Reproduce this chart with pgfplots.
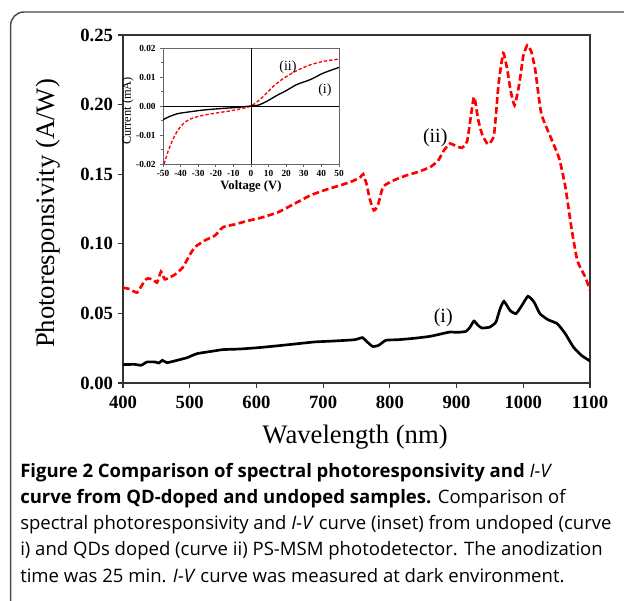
\documentclass[border=0pt]{standalone}
\usepackage{fontspec}
\setmainfont{Liberation Serif}
\newfontfamily\capfont{Open Sans}
\usepackage{pgfplots}
\pgfplotsset{compat=1.18}
\begin{document}
\begin{tikzpicture}
\useasboundingbox (0,0) rectangle (468pt,-450pt);
\begin{scope}
\clip (0,0) rectangle (468pt,-450pt);
\draw[line width=1.1pt, color=black!70, rounded corners=10pt] (8pt,-9pt) rectangle (490pt,-480pt);
\end{scope}

\begin{axis}[at={(92.25pt,-287.25pt)}, anchor=south west, scale only axis,
  width=350.25pt, height=261pt,
  xmin=400, xmax=1100, ymin=0, ymax=0.25,
  xtick={400,500,600,700,800,900,1000,1100},
  ytick={0,0.05,0.1,0.15,0.2,0.25},
  scaled ticks=false,
  tick align=outside, tick pos=left, major tick length=4pt,
  axis line style={line width=0.9pt, black!80},
  every tick/.style={line width=0.9pt, black!80},
  /pgf/number format/assume math mode=true,
  /pgf/number format/1000 sep={},
  tick label style={font=\bfseries\fontsize{14}{14}\selectfont},
  yticklabel style={/pgf/number format/.cd, fixed, fixed zerofill, precision=2},
  xticklabel style={yshift=-2pt},
  xlabel={Wavelength (nm)},
  ylabel={Photoresponsivity (A/W)},
  xlabel style={at={(rel axis cs:0.497,-0.155)}, anchor=center, font=\fontsize{20}{20}\selectfont},
  ylabel style={at={(rel axis cs:-0.161,0.487)}, anchor=center, font=\fontsize{20}{20}\selectfont},
]
\addplot[red, line width=2pt, dash pattern=on 5pt off 2.5pt, smooth, tension=0.3] coordinates {
(400,0.0685)(410,0.0675)(421,0.0650)(430,0.0715)(436,0.0750)(445,0.0745)(451,0.0722)(457,0.0800)(463,0.0745)(478,0.0780)(490,0.0833)(500,0.0920)(508,0.0977)(523,0.1025)(538,0.1060)(550,0.1120)(568,0.1140)(586,0.1164)(609,0.1190)(633,0.1228)(657,0.1288)(681,0.1348)(705,0.1390)(729,0.1425)(744,0.1450)(756,0.1480)(760,0.1500)(765,0.1430)(770,0.1320)(776,0.1240)(782,0.1276)(790,0.1410)(806,0.1456)(824,0.1490)(842,0.1516)(860,0.1550)(872,0.1595)(881,0.1670)(890,0.1720)(900,0.1700)(908,0.1690)(916,0.1740)(926,0.2055)(932,0.1900)(938,0.1790)(947,0.1715)(956,0.1780)(963,0.2150)(970,0.2370)(976,0.2250)(981,0.2100)(987,0.1995)(994,0.2150)(1000,0.2350)(1006,0.2426)(1012,0.2380)(1018,0.2246)(1027,0.1935)(1042,0.1755)(1054,0.1610)(1063,0.1410)(1072,0.1120)(1081,0.0880)(1093,0.0760)(1100,0.0666)
};
\addplot[black, line width=2pt, smooth, tension=0.3] coordinates {
(400,0.0132)(418,0.0134)(427,0.0127)(436,0.0151)(448,0.0151)(454,0.0144)(459,0.0163)(466,0.0146)(481,0.0163)(496,0.0182)(511,0.0211)(532,0.0227)(550,0.0240)(574,0.0244)(603,0.0254)(633,0.0268)(663,0.0283)(687,0.0295)(717,0.0302)(747,0.0311)(759,0.0326)(765,0.0300)(774,0.0263)(783,0.0270)(794,0.0307)(812,0.0311)(836,0.0321)(860,0.0335)(878,0.0354)(890,0.0366)(902,0.0364)(914,0.0371)(920,0.0400)(926,0.0445)(932,0.0415)(938,0.0395)(950,0.0402)(959,0.0438)(965,0.0530)(971,0.0587)(980,0.0522)(989,0.0498)(998,0.0558)(1007,0.0623)(1016,0.0582)(1025,0.0498)(1037,0.0455)(1051,0.0426)(1063,0.0354)(1075,0.0259)(1087,0.0199)(1100,0.0158)
};
\node[font=\fontsize{15}{15}\selectfont] at (axis cs:868,0.176) {(ii)};
\node[font=\fontsize{15}{15}\selectfont] at (axis cs:880,0.047) {(i)};
\end{axis}

\begin{axis}[at={(122.25pt,-123pt)}, anchor=south west, scale only axis,
  width=132pt, height=87pt,
  xmin=-50, xmax=50, ymin=-0.02, ymax=0.02,
  xtick={-50,-40,-30,-20,-10,0,10,20,30,40,50},
  ytick={-0.02,-0.01,0,0.01,0.02},
  minor y tick num=1,
  scaled ticks=false,
  tick align=outside, tick pos=left, major tick length=2pt, minor tick length=1.5pt,
  axis line style={line width=0.6pt, black!60},
  every tick/.style={line width=0.5pt, black!60},
  axis background/.style={fill=white},
  /pgf/number format/assume math mode=true,
  tick label style={font=\bfseries\fontsize{7}{7}\selectfont},
  yticklabel style={/pgf/number format/.cd, fixed, fixed zerofill, precision=2},
  xticklabel style={yshift=1pt},
  xlabel={Voltage (V)},
  ylabel={Current (mA)},
  xlabel style={at={(rel axis cs:0.5,-0.195)}, anchor=center, font=\bfseries\fontsize{9.5}{9.5}\selectfont},
  ylabel style={at={(rel axis cs:-0.199,0.457)}, anchor=center, font=\fontsize{9.3}{9.3}\selectfont},
]
\draw[black, line width=0.6pt] (axis cs:0,-0.02) -- (axis cs:0,0.02);
\draw[black, line width=0.6pt] (axis cs:-50,0) -- (axis cs:50,0);
\addplot[red, line width=1pt, dash pattern=on 2.5pt off 1.5pt, smooth, tension=0.4] coordinates {
(-49.4,-0.0200)(-47.1,-0.0156)(-44.3,-0.0114)(-41.4,-0.0082)(-37.6,-0.0056)(-32.9,-0.0041)(-27.2,-0.0032)(-19.6,-0.0024)(-12,-0.0017)(-4.4,-0.0008)(0,0)(3.2,0.0013)(7,0.0033)(12.7,0.0068)(18.4,0.0095)(26,0.0122)(33.7,0.0142)(41.3,0.0154)(50,0.0162)
};
\addplot[black, line width=1pt, smooth, tension=0.4] coordinates {
(-50,-0.0047)(-46.2,-0.0036)(-41.4,-0.0026)(-34.8,-0.0020)(-27.2,-0.0014)(-17.7,-0.0009)(-8.2,-0.0005)(0,0)(4.2,0.0003)(8.9,0.0016)(14.6,0.0036)(20.3,0.0054)(26,0.0074)(33.7,0.0091)(41.3,0.0114)(50,0.0133)
};
\node[font=\fontsize{10.5}{10.5}\selectfont] at (axis cs:21,0.0134) {(ii)};
\node[font=\fontsize{10.5}{10.5}\selectfont] at (axis cs:42,0.0055) {(i)};
\end{axis}

\begin{scope}[every node/.style={anchor=base west, inner sep=0pt, font=\capfont\fontsize{13.9}{13.9}\selectfont}]
\node at (15pt,-357.75pt) {\bfseries Figure 2 Comparison of spectral photoresponsivity and {\mdseries\itshape I-V}};
\node at (15pt,-377.5pt) {\textbf{curve from QD-doped and undoped samples.} Comparison of};
\node at (15pt,-397.2pt) {spectral photoresponsivity and \textit{I-V} curve (inset) from undoped (curve};
\node at (15pt,-416.9pt) {i) and QDs doped (curve ii) PS-MSM photodetector. The anodization};
\node at (15pt,-436.6pt) {time was 25 min. \textit{I-V} curve was measured at dark environment.};
\end{scope}
\end{tikzpicture}
\end{document}
